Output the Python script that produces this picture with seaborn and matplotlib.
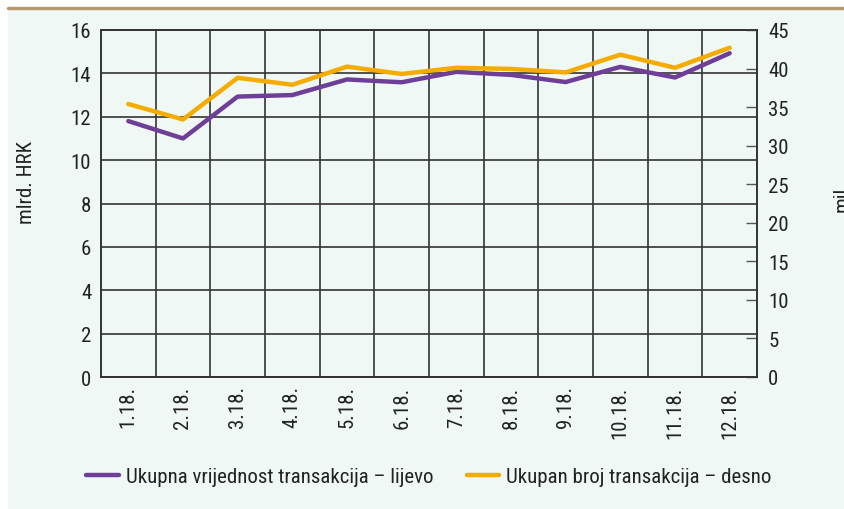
import numpy as np
import pandas as pd
import matplotlib
matplotlib.use("Agg")
import matplotlib.pyplot as plt
import seaborn as sns
from matplotlib.patches import Rectangle
from matplotlib.lines import Line2D

months = ['1.18.', '2.18.', '3.18.', '4.18.', '5.18.', '6.18.',
          '7.18.', '8.18.', '9.18.', '10.18.', '11.18.', '12.18.']
value_bn = [11.8, 11.0, 12.93, 13.0, 13.72, 13.59, 14.07, 13.93, 13.6, 14.3, 13.81, 14.93]
count_mn = [35.4, 33.4, 38.8, 37.9, 40.25, 39.3, 40.1, 39.95, 39.5, 41.8, 40.1, 42.7]

purple = '#6f3f98'
orange = '#f5ab00'
bg = '#eff8f4'
txt = '#222222'
fs = 15

sns.set_style('white')
plt.rcParams['font.family'] = ['Roboto Condensed', 'DejaVu Sans']

df = pd.DataFrame({'month': months, 'value': value_bn, 'count': count_mn})
df['pos'] = np.arange(len(months))

fig = plt.figure(figsize=(8.45, 5.1), dpi=100)
fig.patch.set_facecolor('white')
fig.patches.append(Rectangle((8/845, 0), 1, 1 - 9/510, transform=fig.transFigure,
                             facecolor=bg, edgecolor='none', zorder=-5))
fig.add_artist(Line2D([8/845, 1], [1 - 9/510, 1 - 9/510], transform=fig.transFigure,
                      color='#b49a6c', lw=2.5, zorder=-4))

ax = fig.add_axes([101/845, 1 - 378/510, (757-101)/845, (378-31)/510])
ax.set_facecolor(bg)
ax2 = ax.twinx()

sns.lineplot(data=df, x='pos', y='value', ax=ax, color=purple, lw=3.2, legend=False)
sns.lineplot(data=df, x='pos', y='count', ax=ax2, color=orange, lw=3.2, legend=False)

ax.set_xlim(-0.5, len(months) - 0.5)
ax.set_ylim(0, 16)
ax.set_yticks(range(0, 17, 2))
ax2.set_ylim(0, 45)
ax2.set_yticks(range(0, 46, 5))

ax.set_xticks(df['pos'])
ax.set_xticklabels(months, rotation=90)
ax.set_xticks(np.arange(0.5, len(months) - 1, 1), minor=True)
ax.grid(False)
ax.grid(True, which='minor', axis='x', color='#333333', lw=1.2)
ax.grid(True, which='major', axis='y', color='#333333', lw=1.2)
ax.set_axisbelow(True)
ax.tick_params(axis='x', which='both', length=0, labelsize=fs, colors=txt, pad=6)
ax.tick_params(axis='y', length=0, labelsize=fs, colors=txt, pad=7)
ax2.tick_params(axis='y', direction='in', length=8, width=1, color='#555555',
                labelsize=fs, labelcolor=txt, pad=8)

for a in (ax, ax2):
    for s in a.spines.values():
        s.set_color('#333333')
        s.set_linewidth(1.2)

ax.set_xlabel('')
ax.set_ylabel('')
ax2.set_ylabel('')
fig.text(27/845, 1 - 183/510, 'mlrd. HRK', rotation=90, fontsize=fs, color=txt,
         ha='center', va='center')
fig.text(833/845, 1 - 197/510, 'mil.', rotation=90, fontsize=fs, color=txt,
         ha='left', va='center')

handles = [Line2D([], [], color=purple, lw=3.2), Line2D([], [], color=orange, lw=3.2)]
fig.legend(handles, ['Ukupna vrijednost transakcija – lijevo', 'Ukupan broj transakcija – desno'],
           loc='center', bbox_to_anchor=(429/845, 1 - 478/510), ncol=2, frameon=False,
           fontsize=fs, handlelength=1.55, handletextpad=0.35, columnspacing=1.6,
           labelcolor=txt)

fig.savefig('out.png', dpi=100, facecolor=fig.get_facecolor())
